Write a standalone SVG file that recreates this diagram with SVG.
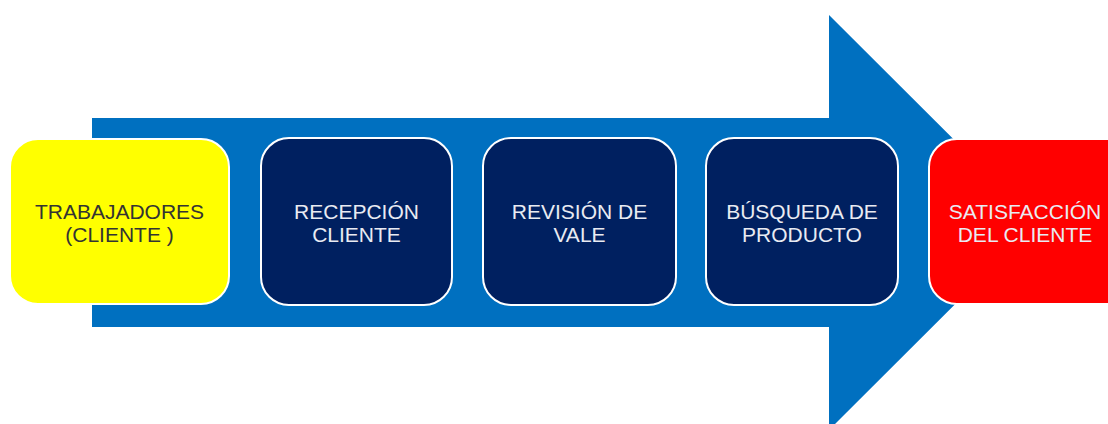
<svg xmlns="http://www.w3.org/2000/svg" width="1108" height="424" viewBox="0 0 1108 424">
<style>
.box{stroke:#ffffff;stroke-width:2}
.t{font-family:"Liberation Sans",Arial,sans-serif;font-size:21px;text-anchor:middle}
.w{fill:#e9ebf2}
</style>
<rect width="1108" height="424" fill="#ffffff"/>
<g id="arrow">
<polygon points="92,118 829,118 829,15 1037,222.5 829,430 829,327 92,327" fill="#0070C0"/>
</g>
<g id="connectors"></g>
<g id="n1">
<rect class="box" x="10" y="139" width="219" height="165" rx="28" fill="#FFFF00"/>
<text class="t" fill="#333333" x="119.5" y="219">TRABAJADORES</text>
<text class="t" fill="#333333" x="119.5" y="242">(CLIENTE )</text>
</g>
<g id="n2">
<rect class="box" x="261" y="138" width="191" height="167" rx="28" fill="#002060"/>
<text class="t w" x="356.5" y="219">RECEPCIÓN</text>
<text class="t w" x="356.5" y="242">CLIENTE</text>
</g>
<g id="n3">
<rect class="box" x="483" y="138" width="193" height="167" rx="28" fill="#002060"/>
<text class="t w" x="579.5" y="219">REVISIÓN DE</text>
<text class="t w" x="579.5" y="242">VALE</text>
</g>
<g id="n4">
<rect class="box" x="706" y="138" width="192" height="167" rx="28" fill="#002060"/>
<text class="t w" x="802" y="219">BÚSQUEDA DE</text>
<text class="t w" x="802" y="242">PRODUCTO</text>
</g>
<g id="n5">
<rect class="box" x="929" y="139" width="210" height="165" rx="28" fill="#FF0000"/>
<text class="t w" x="1025" y="219">SATISFACCIÓN</text>
<text class="t w" x="1025" y="242">DEL CLIENTE</text>
</g>
</svg>
